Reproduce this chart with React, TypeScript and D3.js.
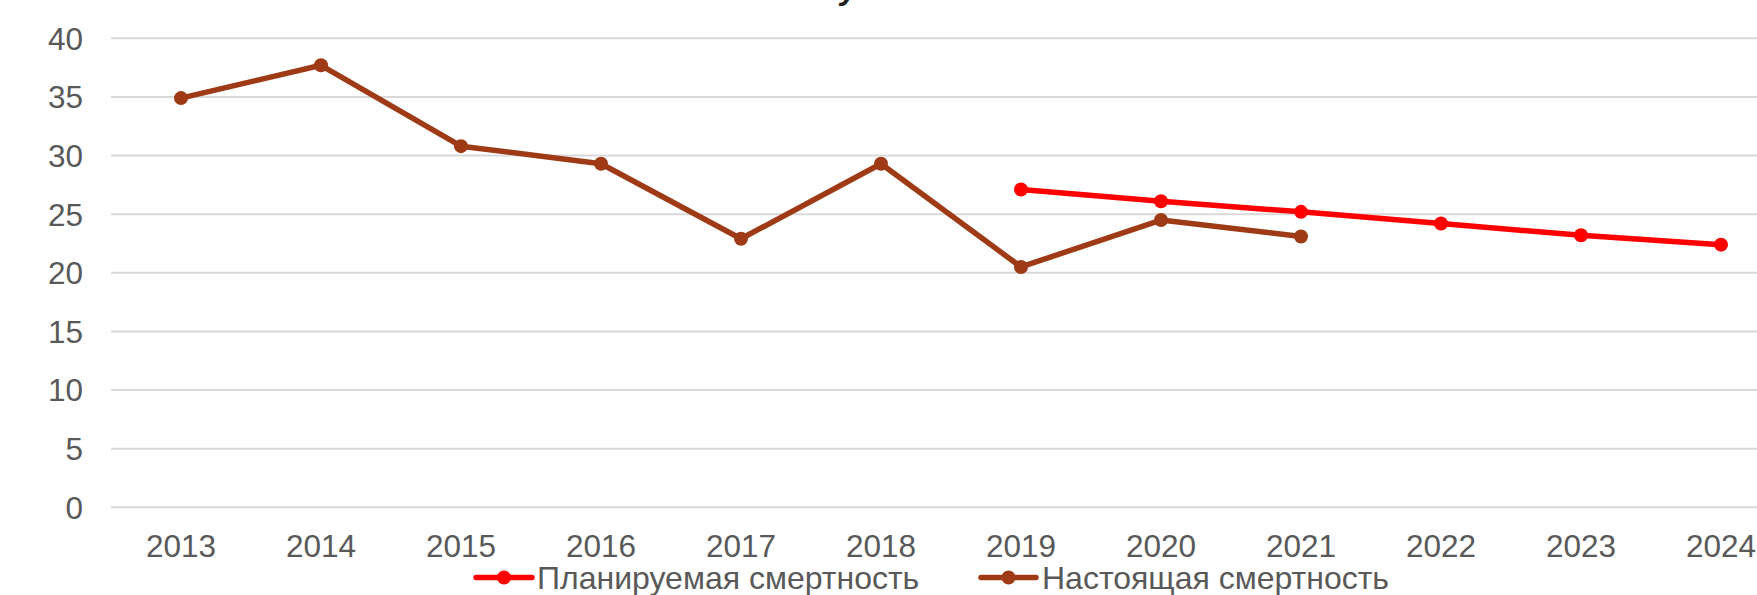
import React from "react";
import * as d3 from "d3";

const width = 1757;
const height = 595;

const years = ["2013", "2014", "2015", "2016", "2017", "2018", "2019", "2020", "2021", "2022", "2023", "2024"];
const plannedYears = ["2019", "2020", "2021", "2022", "2023", "2024"];
const plannedValues = [27.1, 26.1, 25.2, 24.2, 23.2, 22.4];
const actualYears = ["2013", "2014", "2015", "2016", "2017", "2018", "2019", "2020", "2021"];
const actualValues = [34.9, 37.7, 30.8, 29.3, 22.9, 29.3, 20.5, 24.5, 23.1];
const yTicks = [0, 5, 10, 15, 20, 25, 30, 35, 40];
const seriesNames = ["Планируемая смертность", "Настоящая смертность"];
const seriesColors = ["#FF0000", "#9E3A16"];

const plotLeft = 111;
const bandW = 140;

const App = () => {
  const x = d3
    .scaleBand()
    .domain(years)
    .range([plotLeft, plotLeft + years.length * bandW]);
  const y = d3.scaleLinear().domain([0, 40]).range([507.3, 38.3]);
  const cx = (yr) => x(yr) + x.bandwidth() / 2;

  const line = d3
    .line()
    .x((d) => cx(d[0]))
    .y((d) => y(d[1]));

  const series = [
    plannedYears.map((yr, i) => [yr, plannedValues[i]]),
    actualYears.map((yr, i) => [yr, actualValues[i]]),
  ];

  const font = "'Liberation Sans', Arial, sans-serif";
  const legend = [
    { x0: 476, x1: 532, tx: 537 },
    { x0: 981, x1: 1036, tx: 1042 },
  ];

  return (
    <svg
      width={width}
      height={height}
      style={{ position: "absolute", left: 0, top: 0, background: "#fff" }}
      fontFamily={font}
    >
      {/* title sits above the visible area, only a descender shows */}
      <text x={840} y={-1} fontSize={32} fontStyle="italic" fontWeight="bold" fill="#222">
        у
      </text>

      {yTicks.map((t) => (
        <g key={t}>
          <line x1={plotLeft} x2={width} y1={y(t)} y2={y(t)} stroke="#D9D9D9" strokeWidth={2} />
          <text x={83} y={y(t)} dy="0.36em" textAnchor="end" fontSize={31.5} fill="#595959">
            {t}
          </text>
        </g>
      ))}

      {years.map((yr) => (
        <text key={yr} x={cx(yr)} y={557} textAnchor="middle" fontSize={31.5} fill="#595959">
          {yr}
        </text>
      ))}

      {series.map((s, i) => (
        <g key={i}>
          <path d={line(s)} fill="none" stroke={seriesColors[i]} strokeWidth={5.5} strokeLinejoin="round" />
          {s.map((d) => (
            <circle key={d[0]} cx={cx(d[0])} cy={y(d[1])} r={7} fill={seriesColors[i]} />
          ))}
        </g>
      ))}

      {legend.map((l, i) => (
        <g key={i}>
          <line x1={l.x0} x2={l.x1} y1={577.5} y2={577.5} stroke={seriesColors[i]} strokeWidth={5.5} strokeLinecap="round" />
          <circle cx={(l.x0 + l.x1) / 2} cy={577.5} r={7} fill={seriesColors[i]} />
          <text x={l.tx} y={589} fontSize={32} fill="#595959">
            {seriesNames[i]}
          </text>
        </g>
      ))}
    </svg>
  );
};

export default App;
